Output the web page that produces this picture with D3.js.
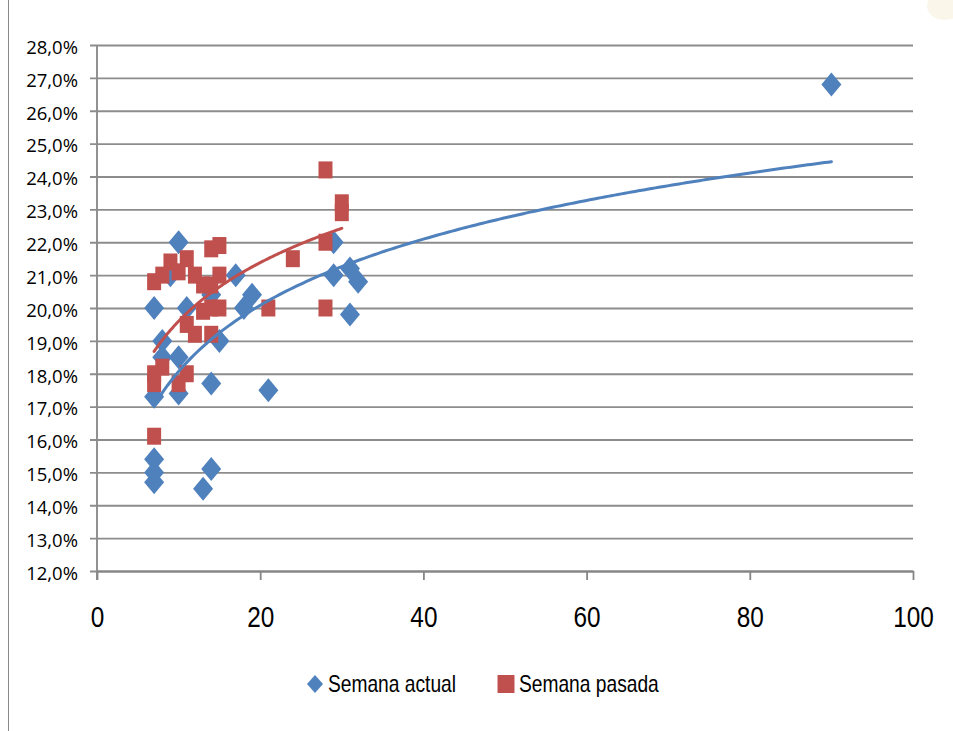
<!DOCTYPE html>
<html>
<head>
<meta charset="utf-8">
<script src="https://cdn.jsdelivr.net/npm/d3@7/dist/d3.min.js"></script>
<style>
  html, body { margin: 0; padding: 0; background: #fff; }
  svg { display: block; }
</style>
</head>
<body>
<svg id="chart"></svg>
<script>
// chart data: [dias, rentabilidad %]
var actualX = [7, 7, 7, 7, 7, 8, 8, 9, 10, 10, 10, 11, 13, 14, 14, 14, 15, 17, 18, 19, 21, 29, 29, 31, 32, 31, 90];
var actualY = [14.7, 15.0, 15.4, 17.3, 20.0, 18.5, 19.0, 21.0, 22.0, 18.5, 17.4, 20.0, 14.5, 15.1, 17.7, 20.4, 19.0, 21.0, 20.0, 20.4, 17.5, 22.0, 21.0, 21.2, 20.8, 19.8, 26.8];

var pasadaX = [7, 7, 7, 7, 8, 8, 9, 10, 10, 11, 11, 11, 12, 12, 13, 13, 14, 14, 14, 14, 15, 15, 15, 21, 24, 28, 28, 28, 30, 30];
var pasadaY = [20.8, 18.0, 17.7, 16.1, 21.0, 18.2, 21.4, 21.1, 17.7, 21.5, 19.5, 18.0, 21.0, 19.2, 20.7, 19.9, 21.8, 20.7, 20.0, 19.2, 21.9, 21.0, 20.0, 20.0, 21.5, 24.2, 22.0, 20.0, 23.2, 22.9];

var seriesNames = ['Semana actual', 'Semana pasada'];
var seriesColors = ['#4f81bd', '#c0504d'];

var xTicks = [0, 20, 40, 60, 80, 100];
var yTicks = [12, 13, 14, 15, 16, 17, 18, 19, 20, 21, 22, 23, 24, 25, 26, 27, 28];

// layout (window.top is reserved, so plot* names)
var width = 953,
	height = 731,
	plotLeft = 97,
	plotRight = 913,
	plotTop = 45,
	plotBottom = 571;

var svg = d3.select('#chart')
	.attr('width', width)
	.attr('height', height);

var x = d3.scaleLinear().domain([0, 100]).range([plotLeft, plotRight]);
var y = d3.scaleLinear().domain([12, 28]).range([plotBottom, plotTop]);

var es = d3.formatLocale({decimal: ',', thousands: '.', grouping: [3], currency: ['', '€']});
var pct = es.format('.1f');

var narrowFont = '"Liberation Sans", Arial, sans-serif';

// page bits around the chart
svg.append('line')
	.attr('x1', 8.5).attr('x2', 8.5)
	.attr('y1', 0).attr('y2', height)
	.attr('stroke', '#8a8a8a')
	.attr('stroke-width', 1);

svg.append('ellipse')
	.attr('cx', 945).attr('cy', 6)
	.attr('rx', 18).attr('ry', 14)
	.attr('fill', '#fbf6ea');

// y axis + gridlines
var yAxis = svg.append('g')
	.attr('transform', 'translate(' + plotLeft + ',0)')
	.call(d3.axisLeft(y).tickValues(yTicks).tickSizeOuter(0).tickPadding(13)
		.tickFormat(function(d) { return pct(d) + '%'; }));

yAxis.select('.domain')
	.attr('stroke', '#868686')
	.attr('stroke-width', 1.8)
	.attr('d', 'M0,' + plotTop + 'V' + (plotBottom + 9));

yAxis.selectAll('.tick line')
	.attr('x1', -7)
	.attr('x2', plotRight - plotLeft)
	.attr('stroke', '#8c8c8c')
	.attr('stroke-width', 1.8);

yAxis.selectAll('.tick text')
	.attr('fill', '#000')
	.attr('dy', '0.45em')
	.style('font-family', '"Open Sans", sans-serif')
	.style('font-size', '18.5px');

// x axis
var xAxis = svg.append('g')
	.attr('transform', 'translate(0,' + plotBottom + ')')
	.call(d3.axisBottom(x).tickValues(xTicks).tickSizeOuter(0).tickSizeInner(9).tickPadding(21));

xAxis.select('.domain')
	.attr('stroke', '#868686')
	.attr('stroke-width', 1.8);

xAxis.selectAll('.tick line')
	.attr('stroke', '#868686')
	.attr('stroke-width', 1.8);

xAxis.selectAll('.tick text')
	.attr('fill', '#000')
	.attr('dy', '0.9em')
	.attr('transform', 'scale(0.84,1)')
	.style('font-family', narrowFont)
	.style('font-size', '29px');

// markers
var diamond = 'M0,-12L10,0L0,12L-10,0Z';
var square = 'M-7,-8.5H7V8.5H-7Z';

var actual = actualX.map(function(d, i) { return {x: d, y: actualY[i]}; });
var pasada = pasadaX.map(function(d, i) { return {x: d, y: pasadaY[i]}; });

svg.append('g').selectAll('path')
	.data(actual)
	.enter().append('path')
		.attr('d', diamond)
		.attr('fill', seriesColors[0])
		.attr('transform', function(d) {
			return 'translate(' + x(d.x) + ',' + y(d.y) + ')';
		});

svg.append('g').selectAll('path')
	.data(pasada)
	.enter().append('path')
		.attr('d', square)
		.attr('fill', seriesColors[1])
		.attr('transform', function(d) {
			return 'translate(' + x(d.x) + ',' + y(d.y) + ')';
		});

// logarithmic trendlines, least squares on ln(x)
function logFit(pts) {
	var lx = pts.map(function(p) { return Math.log(p.x); });
	var mx = d3.mean(lx), my = d3.mean(pts, function(p) { return p.y; });
	var sxy = d3.sum(pts, function(p, i) { return (lx[i] - mx) * (p.y - my); });
	var sxx = d3.sum(lx, function(v) { return (v - mx) * (v - mx); });
	var b = sxy / sxx;
	return {a: my - b * mx, b: b};
}

var line = d3.line()
	.x(function(d) { return x(d[0]); })
	.y(function(d) { return y(d[1]); });

[actual, pasada].forEach(function(pts, k) {
	var fit = logFit(pts);
	var ext = d3.extent(pts, function(p) { return p.x; });
	var curve = d3.range(ext[0], ext[1] + 0.001, (ext[1] - ext[0]) / 200).map(function(v) {
		return [v, fit.a + fit.b * Math.log(v)];
	});
	svg.append('path')
		.attr('d', line(curve))
		.attr('fill', 'none')
		.attr('stroke', seriesColors[k])
		.attr('stroke-width', 3)
		.attr('stroke-linecap', 'round');
});

// legend
var legendX = [315, 506];
seriesNames.forEach(function(name, k) {
	svg.append('path')
		.attr('d', k === 0 ? 'M0,-9L8,0L0,9L-8,0Z' : 'M-8.5,-9H8.5V9H-8.5Z')
		.attr('fill', seriesColors[k])
		.attr('transform', 'translate(' + legendX[k] + ',684)');
	svg.append('g')
		.attr('transform', 'translate(' + (legendX[k] + 13) + ',692) scale(0.8,1)')
		.append('text')
		.attr('fill', '#000')
		.style('font-family', narrowFont)
		.style('font-size', '24px')
		.text(name);
});
</script>
</body>
</html>
